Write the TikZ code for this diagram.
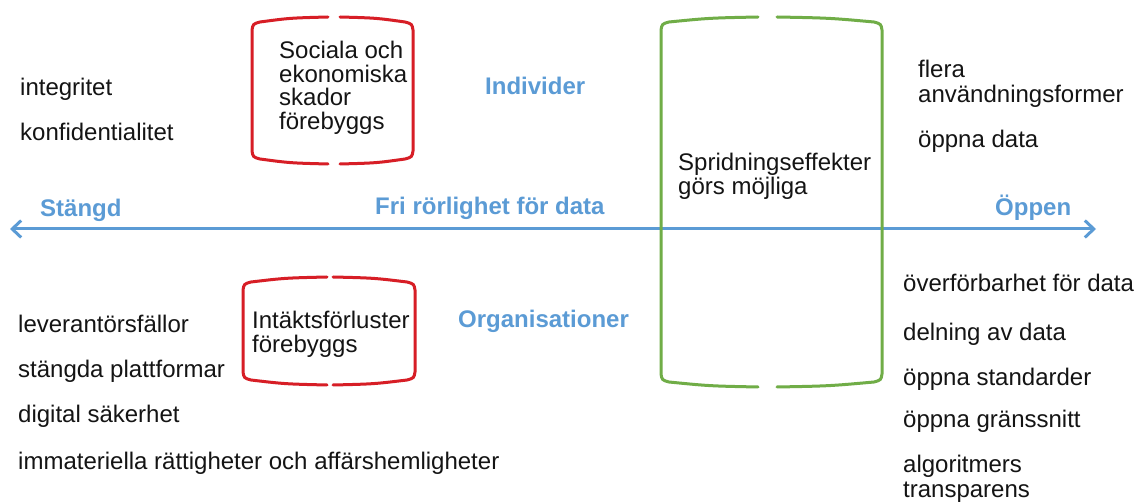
\documentclass[tikz,border=0pt]{standalone}
\usepackage{fontspec}
\setmainfont{Liberation Sans}
\usetikzlibrary{arrows.meta}
\definecolor{myblue}{RGB}{91,155,213}
\definecolor{myred}{RGB}{215,30,38}
\definecolor{mygreen}{RGB}{112,173,71}
\definecolor{mytext}{RGB}{20,20,20}
\tikzset{
  lbl/.style={anchor=base west, inner sep=0pt, text=mytext, font=\fontsize{24}{24}\selectfont},
  blbl/.style={anchor=base west, inner sep=0pt, text=myblue, font=\fontsize{24}{24}\selectfont\bfseries},
  blk/.style={anchor=north west, inner sep=0pt, align=left, text=mytext, font=\fontsize{24}{23.5}\selectfont},
  brk/.style={line width=3pt, line cap=round},
}
% left half of bracket box: xL, top, bot, gap
\newcommand{\halfbox}[5]{%
  \draw[brk,#5] (#4,#2) .. controls ({(#1+#4)/2},{#2+1}) .. ({#1+8},{#2+5}) .. controls ({#1+1},{#2+7}) .. (#1,{#2+13}) -- (#1,{#3-13}) .. controls ({#1+1},{#3-7}) .. ({#1+8},{#3-5}) .. controls ({(#1+#4)/2},{#3-1}) .. (#4,#3);}
\newcommand{\halfboxR}[5]{%
  \draw[brk,#5] (#4,#2) .. controls ({(#1+#4)/2},{#2+1}) .. ({#1-8},{#2+5}) .. controls ({#1-1},{#2+7}) .. (#1,{#2+13}) -- (#1,{#3-13}) .. controls ({#1-1},{#3-7}) .. ({#1-8},{#3-5}) .. controls ({(#1+#4)/2},{#3-1}) .. (#4,#3);}
\begin{document}
\begin{tikzpicture}[x=1pt,y=-1pt]
\useasboundingbox[fill=white] (0,0) rectangle (1136,502);
% brackets
\halfbox{252}{17}{164}{328}{myred}
\halfboxR{413}{17}{164}{340}{myred}
\halfbox{243}{277}{385}{327}{myred}
\halfboxR{415}{277}{385}{333}{myred}
% arrow
\coordinate (L) at (10,229);
\coordinate (R) at (1096,229);
\draw[myblue, line width=3pt, {Straight Barb[length=9pt,width=17pt]}-{Straight Barb[length=9pt,width=17pt]}] (L) -- (R);
\halfbox{661}{17}{387}{758}{mygreen}
\halfboxR{882}{17}{387}{777}{mygreen}
% box texts
\node[blk] (soc) at (279,41) {Sociala och\\ekonomiska\\skador\\förebyggs};
\node[blk] (int) at (252,311) {Intäktsförluster\\förebyggs};
\node[blk] (spr) at (678,153) {Spridningseffekter\\görs möjliga};
% blue labels
\node[blbl] (ind) at (485,95) {Individer};
\node[blbl] (stg) at (40,217) {Stängd};
\node[blbl] (fri) at (375,215) {Fri rörlighet för data};
\node[blbl] (opp) at (995,216) {Öppen};
\node[blbl] (org) at (458,328) {Organisationer};
% left texts
\node[lbl] (t1) at (20,96) {integritet};
\node[lbl] (t2) at (20,141) {konfidentialitet};
\node[lbl] (t3) at (18,333) {leverantörsfällor};
\node[lbl] (t4) at (18,378) {stängda plattformar};
\node[lbl] (t5) at (18,423) {digital säkerhet};
\node[lbl] (t6) at (18,470) {immateriella rättigheter och affärshemligheter};
% right texts
\node[lbl] (r1) at (918,78) {flera};
\node[lbl] (r2) at (918,103) {användningsformer};
\node[lbl] (r3) at (918,148) {öppna data};
\node[lbl] (r4) at (903,292) {överförbarhet för data};
\node[lbl] (r5) at (903,341) {delning av data};
\node[lbl] (r6) at (903,386) {öppna standarder};
\node[lbl] (r7) at (903,428) {öppna gränssnitt};
\node[lbl] (r8) at (903,473) {algoritmers};
\node[lbl] (r9) at (903,498) {transparens};
\end{tikzpicture}
\end{document}
